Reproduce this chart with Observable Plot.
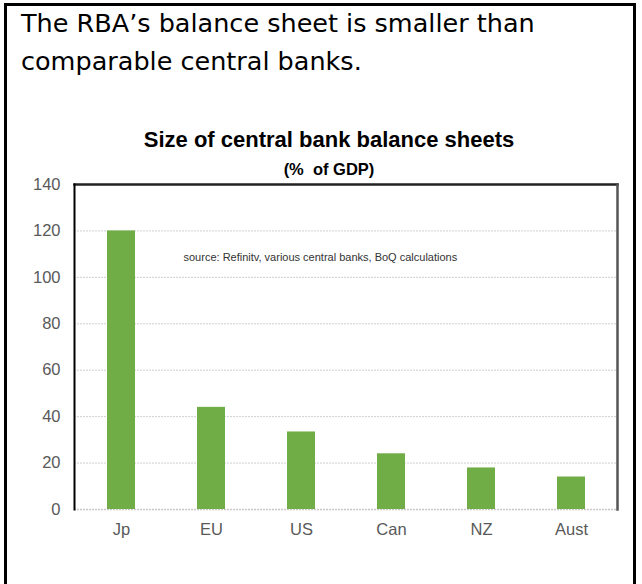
<!DOCTYPE html>
<html>
<head>
<meta charset="utf-8">
<script src="https://cdn.jsdelivr.net/npm/d3@7"></script>
<script src="https://cdn.jsdelivr.net/npm/@observablehq/plot@0.6"></script>
<style>
  html, body { margin: 0; padding: 0; background: #fff; }
  #frame { position: relative; width: 642px; height: 584px; overflow: hidden; }
  #box { position: absolute; left: 4px; top: 3px; width: 632px; height: 600px;
         border: 3px solid #000; border-bottom: none; box-sizing: border-box; }
  #head { position: absolute; left: 21px; top: 4px; width: 620px;
          font-family: "DejaVu Sans", sans-serif; font-size: 25.5px;
          line-height: 38px; color: #000; white-space: nowrap; }
  #title { position: absolute; left: 0; width: 658px; top: 127px; text-align: center;
           font-family: "Liberation Sans", Arial, sans-serif; font-weight: bold; font-size: 22px; color: #000; }
  #sub { position: absolute; left: 0; width: 658px; top: 160px; text-align: center;
         font-family: "Liberation Sans", Arial, sans-serif; font-weight: bold; font-size: 16.5px; color: #000; white-space: pre; }
  #chart { position: absolute; left: 0; top: 120px; }
</style>
</head>
<body>
<div id="frame">
  <div id="box"></div>
  <div id="head">The RBA’s balance sheet is smaller than<br>comparable central banks.</div>
  <div id="title">Size of central bank balance sheets</div>
  <div id="sub">(%  of GDP)</div>
  <div id="chart"></div>
</div>
<script>
const countries = ["Jp", "EU", "US", "Can", "NZ", "Aust"];
const values = [120, 44, 33.4, 24, 17.9, 14];
const yTicks = [0, 20, 40, 60, 80, 100, 120, 140];
const gridTicks = [20, 40, 60, 80, 100, 120];
const sourceNote = "source: Refinitv, various central banks, BoQ calculations";

const data = countries.map((c, i) => ({country: c, value: values[i]}));

const chart = Plot.plot({
  width: 642,
  height: 450,
  marginLeft: 74,
  marginRight: 25,
  marginTop: 64,
  marginBottom: 61,
  style: {fontFamily: "'Liberation Sans', Arial, sans-serif", fontSize: "16.5px", color: "#595959", background: "transparent"},
  x: {domain: countries, paddingInner: 0.69, paddingOuter: 0.345, label: null},
  y: {domain: [0, 140], label: null},
  marks: [
    Plot.ruleY(gridTicks, {stroke: "#cfcfcf", strokeWidth: 1, strokeDasharray: "2,1"}),
    Plot.ruleY([0], {stroke: "#c8c8c8", strokeWidth: 1.5, strokeDasharray: "2,1"}),
    Plot.barY(data, {x: "country", y: "value", fill: "#70ad47"}),
    Plot.frame({anchor: "top", stroke: "#222", strokeWidth: 2.5}),
    Plot.frame({anchor: "left", stroke: "#000", strokeWidth: 2}),
    Plot.frame({anchor: "right", stroke: "#555", strokeWidth: 2.5}),
    Plot.axisY({ticks: yTicks, tickSize: 0, tickPadding: 14, fill: "#595959", fontSize: 16.5}),
    Plot.axisX({tickSize: 0, tickPadding: 14, fill: "#595959", fontSize: 16.5}),
    Plot.text([sourceNote], {frameAnchor: "top-left", dx: 109, dy: 69, textAnchor: "start",
      fontSize: 11, fill: "#333", fontFamily: "'Liberation Sans', Arial, sans-serif"})
  ]
});
document.getElementById("chart").appendChild(chart);
</script>
</body>
</html>
